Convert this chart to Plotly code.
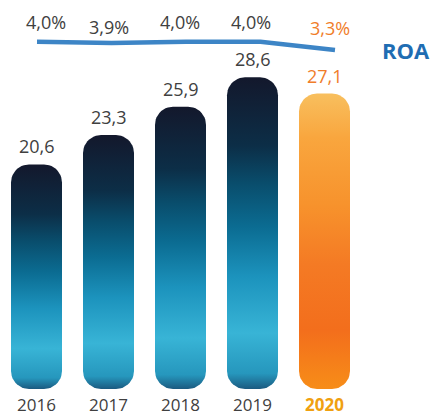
import numpy as np
import plotly.graph_objects as go

# Data
years = ["2016", "2017", "2018", "2019", "2020"]
revenue = [20.6, 23.3, 25.9, 28.6, 27.1]
roa = [4.0, 3.9, 4.0, 4.0, 3.3]
revenue_labels = ["20,6", "23,3", "25,9", "28,6", "27,1"]
roa_labels = ["4,0%", "3,9%", "4,0%", "4,0%", "3,3%"]

W, H = 435, 418
FONT = "Open Sans"
GRAY = "#404040"
ORANGE = "#f07d2a"
GOLD = "#f0a010"
BLUE = "#3d85c6"
ROA_BLUE = "#1f6db3"

# Axis ranges (pixel-per-unit scales chosen for the canvas)
X_PX = 72.0           # px per category
X0_PX = 36.5          # px position of first category
Y_PX = 10.9           # px per value unit
Y0_PX = 389.0         # px position of value 0 (from top)
x_range = [-X0_PX / X_PX, (W - X0_PX) / X_PX]
y_range = [-(H - Y0_PX) / Y_PX, Y0_PX / Y_PX]

HALF_W = 25.5 / X_PX  # half bar width in x units
RAD_PX = 18.0
RX, RY = RAD_PX / X_PX, RAD_PX / Y_PX

blue_scale = [
    [0.00, "#1b5a80"],
    [0.05, "#2697bd"],
    [0.18, "#38b4d6"],
    [0.36, "#1c93bd"],
    [0.52, "#0b6c92"],
    [0.66, "#094d6c"],
    [0.78, "#0c2e47"],
    [1.00, "#13182c"],
]
orange_scale = [
    [0.00, "#f78d18"],
    [0.20, "#f36e1c"],
    [0.42, "#f47a24"],
    [0.62, "#f7922c"],
    [0.85, "#f9a63e"],
    [1.00, "#f8bf5e"],
]


def rounded_bar(xc, top):
    """Outline of a bar with rounded top and bottom corners."""
    t = np.linspace(0, np.pi / 2, 12)
    l, r = xc - HALF_W, xc + HALF_W
    xs, ys = [], []
    # bottom-left corner
    xs += list(l + RX - RX * np.cos(t)); ys += list(0 + RY - RY * np.sin(t))
    # bottom-right corner
    xs += list(r - RX + RX * np.sin(t)); ys += list(0 + RY - RY * np.cos(t))
    # top-right corner
    xs += list(r - RX + RX * np.cos(t)); ys += list(top - RY + RY * np.sin(t))
    # top-left corner
    xs += list(l + RX - RX * np.sin(t)); ys += list(top - RY + RY * np.cos(t))
    xs.append(xs[0]); ys.append(ys[0])
    return xs, ys


fig = go.Figure()

for i, (yr, v) in enumerate(zip(years, revenue)):
    xs, ys = rounded_bar(i, v)
    scale = orange_scale if i == len(years) - 1 else blue_scale
    fig.add_trace(go.Scatter(
        x=xs, y=ys, mode="lines", fill="toself",
        line=dict(width=0, color="rgba(0,0,0,0)"),
        fillgradient=dict(type="vertical", colorscale=scale),
        hoverinfo="skip", showlegend=False, name=yr,
    ))

# ROA line on its own axes
fig.add_trace(go.Scatter(
    x=list(range(len(years))), y=roa, mode="lines",
    line=dict(color=BLUE, width=4.5),
    xaxis="x2", yaxis="y2", showlegend=False, hoverinfo="skip",
))

annotations = []
for i, (v, lab) in enumerate(zip(revenue, revenue_labels)):
    last = i == len(years) - 1
    annotations.append(dict(
        x=i, y=v, xref="x", yref="y", text=lab, showarrow=False,
        yanchor="bottom", yshift=4,
        font=dict(family=FONT, size=18, color=ORANGE if last else GRAY),
    ))

roa_xshift = [9.5, 0.5, -0.5, -1.5, 5.5]
roa_yshift = [20, 16, 20, 20, 22]
for i, (v, lab) in enumerate(zip(roa, roa_labels)):
    last = i == len(years) - 1
    annotations.append(dict(
        x=i, y=v, xref="x", yref="y2", text=lab, showarrow=False,
        xshift=roa_xshift[i], yshift=roa_yshift[i], yanchor="middle",
        font=dict(family=FONT, size=18, color=ORANGE if last else GRAY),
    ))

annotations.append(dict(
    x=406 / W, y=(H - 50) / H, xref="paper", yref="paper", text="<b>ROA</b>",
    showarrow=False, xanchor="center", yanchor="middle",
    font=dict(family=FONT, size=22, color=ROA_BLUE),
))

for i, yr in enumerate(years):
    last = i == len(years) - 1
    annotations.append(dict(
        x=i, y=0, xref="x", yref="paper", text=f"<b>{yr}</b>" if last else yr,
        showarrow=False, yanchor="bottom", yshift=0,
        font=dict(family=FONT, size=17, color=GOLD if last else GRAY),
    ))

# ROA axis scale: 4.0 sits at 41.7 px, 11.86 px per point
R_PX, R0_PX = 11.86, 41.7
y2_range = [4.0 - (H - R0_PX) / R_PX, 4.0 + R0_PX / R_PX]
L_PX, L0_PX = 74.5, 37.0
x2_range = [-L0_PX / L_PX, (W - L0_PX) / L_PX]

fig.update_layout(
    width=W, height=H,
    margin=dict(l=0, r=0, t=0, b=0),
    paper_bgcolor="white", plot_bgcolor="white",
    xaxis=dict(range=x_range, visible=False, fixedrange=True),
    yaxis=dict(range=y_range, visible=False, fixedrange=True),
    xaxis2=dict(range=x2_range, visible=False, overlaying="x"),
    yaxis2=dict(range=y2_range, visible=False, overlaying="y"),
    annotations=annotations,
)

fig.write_html("out.html")
